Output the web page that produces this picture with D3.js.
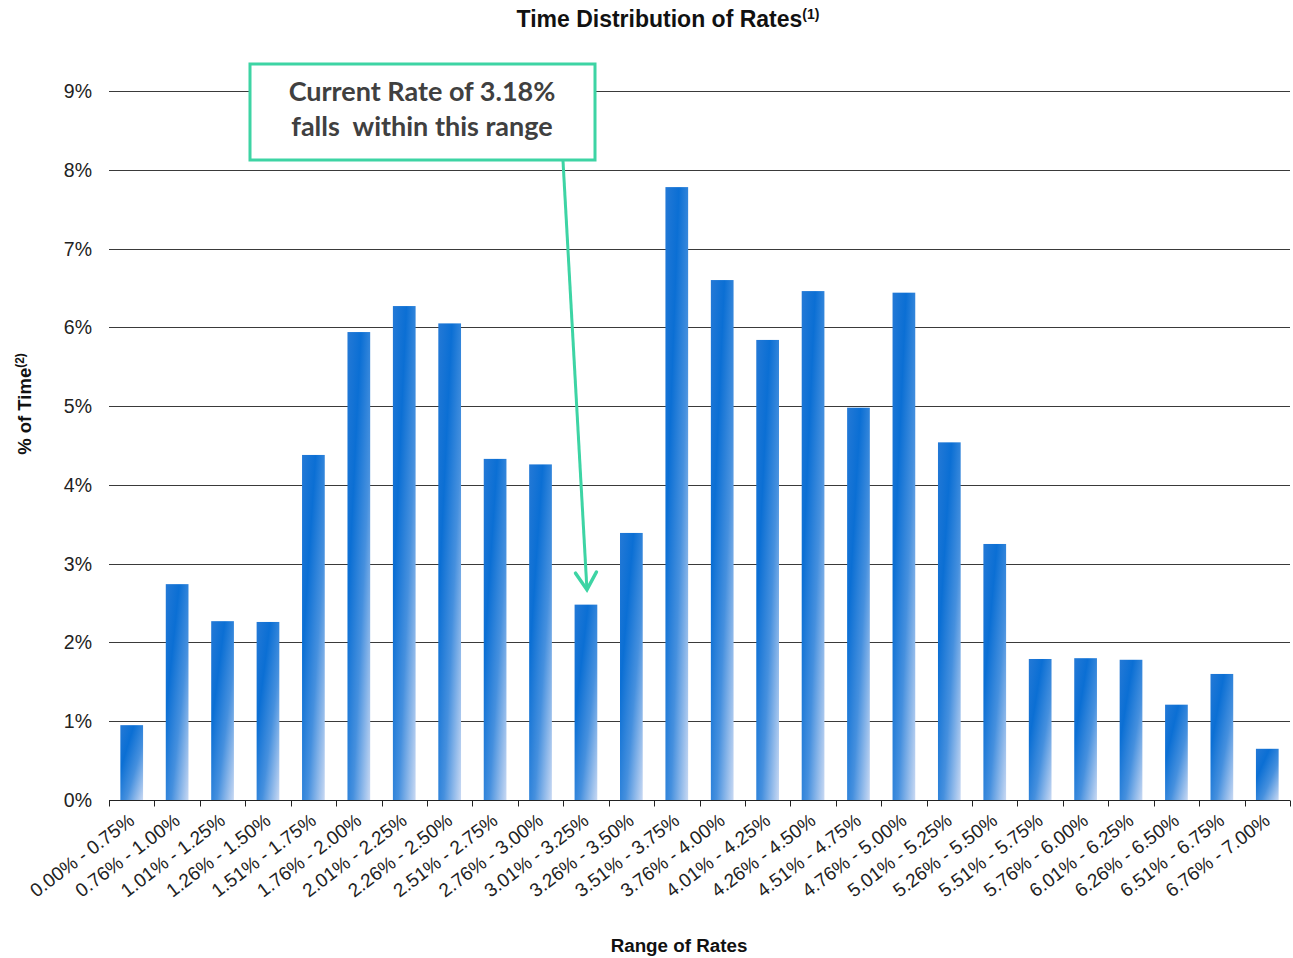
<!DOCTYPE html>
<html>
<head>
<meta charset="utf-8">
<script src="https://cdn.jsdelivr.net/npm/d3@7"></script>
<style>
  html, body { margin: 0; padding: 0; background: #fff; }
  svg { display: block; font-family: "Liberation Sans", Arial, sans-serif; }
</style>
</head>
<body>
<svg id="chart" width="1293" height="958"></svg>
<script>
// Rate buckets and share of time spent in each
const categories = [
  "0.00% - 0.75%", "0.76% - 1.00%", "1.01% - 1.25%", "1.26% - 1.50%",
  "1.51% - 1.75%", "1.76% - 2.00%", "2.01% - 2.25%", "2.26% - 2.50%",
  "2.51% - 2.75%", "2.76% - 3.00%", "3.01% - 3.25%", "3.26% - 3.50%",
  "3.51% - 3.75%", "3.76% - 4.00%", "4.01% - 4.25%", "4.26% - 4.50%",
  "4.51% - 4.75%", "4.76% - 5.00%", "5.01% - 5.25%", "5.26% - 5.50%",
  "5.51% - 5.75%", "5.76% - 6.00%", "6.01% - 6.25%", "6.26% - 6.50%",
  "6.51% - 6.75%", "6.76% - 7.00%"
];
const pctOfTime = [
  0.95, 2.74, 2.27, 2.26, 4.38, 5.94, 6.27, 6.05, 4.33, 4.26, 2.48, 3.39, 7.78,
  6.60, 5.84, 6.46, 4.98, 6.44, 4.54, 3.25, 1.79, 1.80, 1.78, 1.21, 1.60, 0.65
];
const yTicks = [0, 1, 2, 3, 4, 5, 6, 7, 8, 9];
const highlightCategory = "3.01% - 3.25%";
const noteLines = ["Current Rate of 3.18%", "falls  within this range"];

const svg = d3.select("#chart");
const m = { left: 109, right: 1290, top: 91, bottom: 800 };

const x = d3.scaleBand().domain(categories).range([m.left, m.right]).paddingInner(0.5).paddingOuter(0.25);
const y = d3.scaleLinear().domain([0, 9]).range([m.bottom, m.top]);

// Bar fill: diagonal blue fade
const defs = svg.append("defs");
const grad = defs.append("linearGradient").attr("id", "barFill")
  .attr("x1", 0).attr("y1", 0).attr("x2", 1).attr("y2", 1);
[[0, "#2479d6"], [0.3, "#0b6fd4"], [0.62, "#4690de"], [1, "#c9d9f3"]].forEach(([o, c]) =>
  grad.append("stop").attr("offset", o).attr("stop-color", c));

// Horizontal gridlines
svg.append("g").selectAll("line").data(yTicks.filter(d => d > 0)).join("line")
  .attr("x1", m.left).attr("x2", m.right)
  .attr("y1", d => Math.round(y(d)) + 0.5).attr("y2", d => Math.round(y(d)) + 0.5)
  .attr("stroke", "#3a3a3a").attr("stroke-width", 1);

// Y tick labels
svg.append("g").selectAll("text").data(yTicks).join("text")
  .attr("x", 92).attr("y", d => y(d) + 7)
  .attr("text-anchor", "end").attr("font-size", 19.5).attr("fill", "#222")
  .text(d => d + "%");

// Bars
svg.append("g").selectAll("rect").data(pctOfTime).join("rect")
  .attr("x", (d, i) => x(categories[i]))
  .attr("width", x.bandwidth())
  .attr("y", d => y(d))
  .attr("height", d => y(0) - y(d))
  .attr("fill", "url(#barFill)");

// X axis with tick marks between categories
const xAxis = svg.append("g").attr("transform", `translate(0,${m.bottom + 0.5})`);
xAxis.append("line").attr("x1", m.left).attr("x2", m.right).attr("stroke", "#222");
const boundaries = d3.range(categories.length + 1).map(i => m.left + i * (m.right - m.left) / categories.length);
xAxis.selectAll("line.tick").data(boundaries).join("line").attr("class", "tick")
  .attr("x1", d => Math.round(d) + 0.5).attr("x2", d => Math.round(d) + 0.5)
  .attr("y1", 0).attr("y2", 6).attr("stroke", "#222");

// Rotated category labels
svg.append("g").selectAll("text").data(categories).join("text")
  .attr("transform", d => `translate(${x(d) + x.bandwidth() / 2 + 4},${m.bottom + 23}) rotate(-37)`)
  .attr("text-anchor", "end").attr("font-size", 19).attr("fill", "#222")
  .text(d => d);

// Titles
const title = svg.append("text").attr("x", 668).attr("y", 27)
  .attr("text-anchor", "middle").attr("font-size", 23).attr("font-weight", "bold").attr("fill", "#111");
title.append("tspan").text("Time Distribution of Rates");
title.append("tspan").attr("font-size", 14).attr("dy", -8).text("(1)");

svg.append("text").attr("x", 679).attr("y", 952)
  .attr("text-anchor", "middle").attr("font-size", 18.8).attr("font-weight", "bold").attr("fill", "#111")
  .text("Range of Rates");

const yTitle = svg.append("text").attr("transform", "translate(31,404) rotate(-90)")
  .attr("text-anchor", "middle").attr("font-size", 18.5).attr("font-weight", "bold").attr("fill", "#111");
yTitle.append("tspan").text("% of Time");
yTitle.append("tspan").attr("font-size", 12).attr("dy", -7).text("(2)");

// Callout pointing at the current-rate bucket
const green = "#3dd4a4";
const hiIdx = categories.indexOf(highlightCategory);
const tipX = x(highlightCategory) + x.bandwidth() / 2 + 1;
const tipY = y(pctOfTime[hiIdx]) - 15;
const startX = 563, startY = 161;
svg.append("line").attr("x1", startX).attr("y1", startY).attr("x2", tipX).attr("y2", tipY)
  .attr("stroke", green).attr("stroke-width", 3);
const ang = Math.atan2(tipY - startY, tipX - startX);
const headLen = 20, headSpread = 0.55;
const head = [ang + Math.PI - headSpread, ang + Math.PI + headSpread].map(a =>
  [tipX + headLen * Math.cos(a), tipY + headLen * Math.sin(a)]);
svg.append("path")
  .attr("d", `M${head[0][0]},${head[0][1]} L${tipX},${tipY} L${head[1][0]},${head[1][1]}`)
  .attr("fill", "none").attr("stroke", green).attr("stroke-width", 3.5)
  .attr("stroke-linejoin", "miter").attr("stroke-linecap", "round");

svg.append("rect").attr("x", 250).attr("y", 64).attr("width", 345).attr("height", 96)
  .attr("fill", "#fff").attr("stroke", green).attr("stroke-width", 3);
svg.append("g").selectAll("text").data(noteLines).join("text")
  .attr("x", 422).attr("y", (d, i) => 101 + i * 35)
  .attr("text-anchor", "middle").attr("font-family", "Lato, 'Open Sans', sans-serif")
  .attr("font-weight", "bold").attr("font-size", 27).attr("fill", "#404040")
  .attr("xml:space", "preserve").style("white-space", "pre")
  .text(d => d);
</script>
</body>
</html>
